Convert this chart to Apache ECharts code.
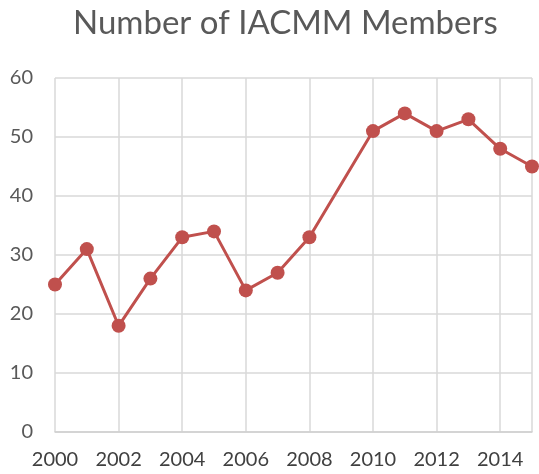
<!DOCTYPE html>
<html><head><meta charset="utf-8">
<script src="https://cdn.jsdelivr.net/npm/echarts@6/dist/echarts.min.js"></script>
<style>html,body{margin:0;padding:0;background:#fff}#c{width:539px;height:474px}</style>
</head><body><div id="c"></div>
<script>
const years = [2000, 2001, 2002, 2003, 2004, 2005, 2006, 2007, 2008, 2010, 2011, 2012, 2013, 2014, 2015];
const members = [25, 31, 18, 26, 33, 34, 24, 27, 33, 51, 54, 51, 53, 48, 45];
const title = 'Number of IACMM Members';

const chart = echarts.init(document.getElementById('c'), null, {renderer: 'canvas'});
const font = 'Lato, "Open Sans", sans-serif';
chart.setOption({
  animation: false,
  title: {text: title, left: 68, top: 2,
    textStyle: {fontFamily: font, fontSize: 33, fontWeight: 'normal', color: '#595959'}},
  grid: {left: 55, right: 7, top: 78, bottom: 42, containLabel: false},
  xAxis: {type: 'value', min: 2000, max: 2015, interval: 2,
    axisLine: {show: true, lineStyle: {color: '#d0d0d0', width: 1.5}},
    axisTick: {show: false},
    splitLine: {show: true, lineStyle: {color: '#d9d9d9', width: 1.5}},
    axisLabel: {fontFamily: font, fontSize: 20, color: '#404040', margin: 18,
      showMaxLabel: false, formatter: v => String(v)}},
  yAxis: {type: 'value', min: 0, max: 60, interval: 10,
    axisLine: {show: false}, axisTick: {show: false},
    splitLine: {lineStyle: {color: '#d9d9d9', width: 1.5}},
    axisLabel: {fontFamily: font, fontSize: 20, color: '#595959', margin: 22}},
  series: [{type: 'line', data: years.map((y, i) => [y, members[i]]),
    symbol: 'circle', symbolSize: 14,
    lineStyle: {color: '#C0504D', width: 3},
    itemStyle: {color: '#C0504D'}}]
});
</script></body></html>
